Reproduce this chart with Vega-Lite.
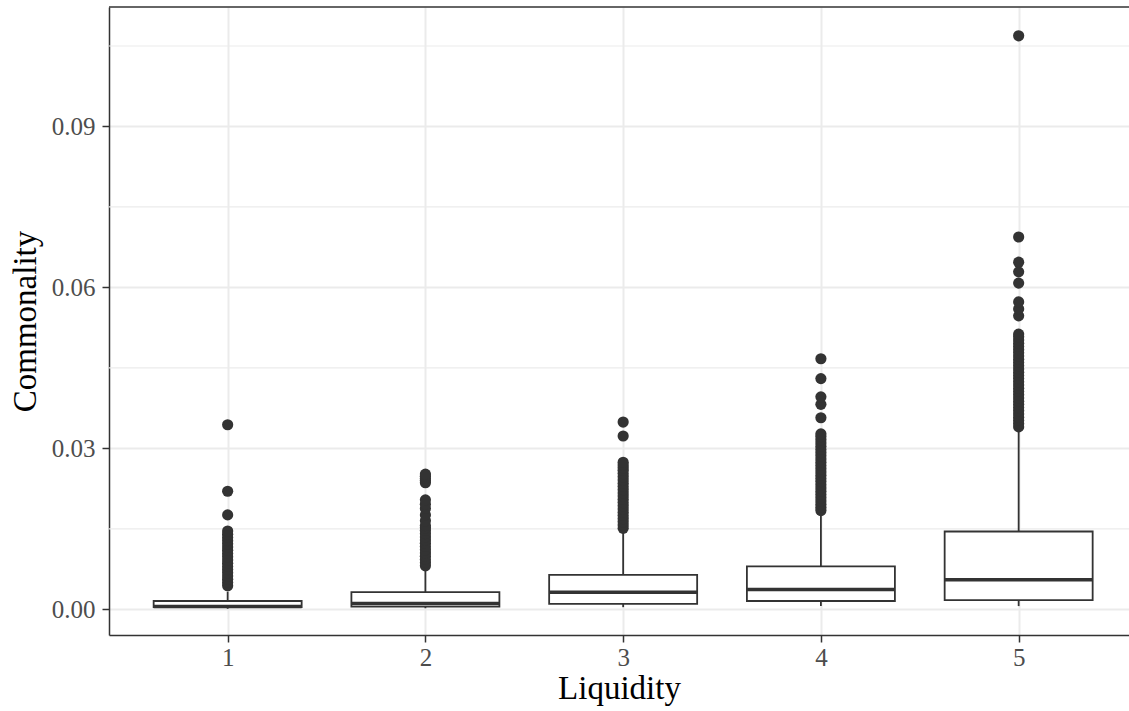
{
  "$schema": "https://vega.github.io/schema/vega-lite/v6.json",
  "description": "Commonality by liquidity group, box plots in ggplot theme_bw style",
  "autosize": {"type": "none"},
  "padding": {"left": 109, "top": 7, "right": 0, "bottom": 76},
  "width": 1020,
  "height": 628,
  "config": {
    "background": "white",
    "view": {"stroke": null},
    "font": "Liberation Serif",
    "axis": {
      "labelFont": "Liberation Serif",
      "titleFont": "Liberation Serif",
      "labelFontSize": 25,
      "labelColor": "#4D4D4D",
      "titleFontSize": 33,
      "titleFontWeight": "normal",
      "titleColor": "black",
      "tickColor": "#333333",
      "tickWidth": 1.5,
      "tickSize": 7,
      "domainColor": "#333333",
      "domainWidth": 1.5,
      "gridColor": "#EBEBEB",
      "gridWidth": 2
    }
  },
  "datasets": {
    "boxes": [
      {"liq": 1, "lower": 0.0001, "q1": 0.0004, "median": 0.0005, "q3": 0.00155, "upper": 0.0033},
      {"liq": 2, "lower": 0.0002, "q1": 0.0005, "median": 0.0011, "q3": 0.0032, "upper": 0.0075},
      {"liq": 3, "lower": 0.0004, "q1": 0.0010, "median": 0.0032, "q3": 0.0064, "upper": 0.0145},
      {"liq": 4, "lower": 0.0006, "q1": 0.00155, "median": 0.0037, "q3": 0.0080, "upper": 0.0178},
      {"liq": 5, "lower": 0.0006, "q1": 0.0017, "median": 0.0055, "q3": 0.0145, "upper": 0.0335}
    ],
    "minor": [
      {"g": 0.015}, {"g": 0.045}, {"g": 0.075}, {"g": 0.105}
    ],
    "outliers": [
      {"liq": 1, "value": 0.0044}, {"liq": 1, "value": 0.0050}, {"liq": 1, "value": 0.0056}, {"liq": 1, "value": 0.0062},
      {"liq": 1, "value": 0.0068}, {"liq": 1, "value": 0.0074}, {"liq": 1, "value": 0.0080}, {"liq": 1, "value": 0.0086},
      {"liq": 1, "value": 0.0092}, {"liq": 1, "value": 0.0098}, {"liq": 1, "value": 0.0104}, {"liq": 1, "value": 0.0110},
      {"liq": 1, "value": 0.0116}, {"liq": 1, "value": 0.0122}, {"liq": 1, "value": 0.0128}, {"liq": 1, "value": 0.0134},
      {"liq": 1, "value": 0.0140}, {"liq": 1, "value": 0.0146}, {"liq": 1, "value": 0.0176}, {"liq": 1, "value": 0.0220},
      {"liq": 1, "value": 0.0344},
      {"liq": 2, "value": 0.0081}, {"liq": 2, "value": 0.0087}, {"liq": 2, "value": 0.0093}, {"liq": 2, "value": 0.0099},
      {"liq": 2, "value": 0.0105}, {"liq": 2, "value": 0.0111}, {"liq": 2, "value": 0.0117}, {"liq": 2, "value": 0.0123},
      {"liq": 2, "value": 0.0129}, {"liq": 2, "value": 0.0135}, {"liq": 2, "value": 0.0141}, {"liq": 2, "value": 0.0147},
      {"liq": 2, "value": 0.0152}, {"liq": 2, "value": 0.0156}, {"liq": 2, "value": 0.0165}, {"liq": 2, "value": 0.0176},
      {"liq": 2, "value": 0.0188}, {"liq": 2, "value": 0.0196}, {"liq": 2, "value": 0.0204}, {"liq": 2, "value": 0.0236},
      {"liq": 2, "value": 0.0240}, {"liq": 2, "value": 0.0244}, {"liq": 2, "value": 0.0248}, {"liq": 2, "value": 0.0252},
      {"liq": 3, "value": 0.0151}, {"liq": 3, "value": 0.0157}, {"liq": 3, "value": 0.0163}, {"liq": 3, "value": 0.0169},
      {"liq": 3, "value": 0.0175}, {"liq": 3, "value": 0.0181}, {"liq": 3, "value": 0.0187}, {"liq": 3, "value": 0.0193},
      {"liq": 3, "value": 0.0199}, {"liq": 3, "value": 0.0205}, {"liq": 3, "value": 0.0211}, {"liq": 3, "value": 0.0217},
      {"liq": 3, "value": 0.0223}, {"liq": 3, "value": 0.0229}, {"liq": 3, "value": 0.0235}, {"liq": 3, "value": 0.0241},
      {"liq": 3, "value": 0.0247}, {"liq": 3, "value": 0.0253}, {"liq": 3, "value": 0.0259}, {"liq": 3, "value": 0.0264},
      {"liq": 3, "value": 0.0269}, {"liq": 3, "value": 0.0274}, {"liq": 3, "value": 0.0323}, {"liq": 3, "value": 0.0349},
      {"liq": 4, "value": 0.0184}, {"liq": 4, "value": 0.0190}, {"liq": 4, "value": 0.0196}, {"liq": 4, "value": 0.0202},
      {"liq": 4, "value": 0.0208}, {"liq": 4, "value": 0.0214}, {"liq": 4, "value": 0.0220}, {"liq": 4, "value": 0.0226},
      {"liq": 4, "value": 0.0232}, {"liq": 4, "value": 0.0238}, {"liq": 4, "value": 0.0244}, {"liq": 4, "value": 0.0250},
      {"liq": 4, "value": 0.0256}, {"liq": 4, "value": 0.0262}, {"liq": 4, "value": 0.0268}, {"liq": 4, "value": 0.0274},
      {"liq": 4, "value": 0.0280}, {"liq": 4, "value": 0.0286}, {"liq": 4, "value": 0.0292}, {"liq": 4, "value": 0.0298},
      {"liq": 4, "value": 0.0304}, {"liq": 4, "value": 0.0310}, {"liq": 4, "value": 0.0316}, {"liq": 4, "value": 0.0322},
      {"liq": 4, "value": 0.0327}, {"liq": 4, "value": 0.0357}, {"liq": 4, "value": 0.0382}, {"liq": 4, "value": 0.0396},
      {"liq": 4, "value": 0.0430}, {"liq": 4, "value": 0.0467},
      {"liq": 5, "value": 0.0340}, {"liq": 5, "value": 0.0346}, {"liq": 5, "value": 0.0352}, {"liq": 5, "value": 0.0358},
      {"liq": 5, "value": 0.0364}, {"liq": 5, "value": 0.0370}, {"liq": 5, "value": 0.0376}, {"liq": 5, "value": 0.0382},
      {"liq": 5, "value": 0.0388}, {"liq": 5, "value": 0.0394}, {"liq": 5, "value": 0.0400}, {"liq": 5, "value": 0.0406},
      {"liq": 5, "value": 0.0412}, {"liq": 5, "value": 0.0418}, {"liq": 5, "value": 0.0424}, {"liq": 5, "value": 0.0430},
      {"liq": 5, "value": 0.0436}, {"liq": 5, "value": 0.0442}, {"liq": 5, "value": 0.0448}, {"liq": 5, "value": 0.0454},
      {"liq": 5, "value": 0.0460}, {"liq": 5, "value": 0.0466}, {"liq": 5, "value": 0.0472}, {"liq": 5, "value": 0.0478},
      {"liq": 5, "value": 0.0484}, {"liq": 5, "value": 0.0490}, {"liq": 5, "value": 0.0496}, {"liq": 5, "value": 0.0502},
      {"liq": 5, "value": 0.0508}, {"liq": 5, "value": 0.0513}, {"liq": 5, "value": 0.0547}, {"liq": 5, "value": 0.0560},
      {"liq": 5, "value": 0.0573}, {"liq": 5, "value": 0.0608}, {"liq": 5, "value": 0.0629}, {"liq": 5, "value": 0.0647},
      {"liq": 5, "value": 0.0694}, {"liq": 5, "value": 0.1069}
    ]
  },
  "layer": [
    {
      "data": {"name": "minor"},
      "mark": {"type": "rule", "color": "#EBEBEB", "strokeWidth": 1.2},
      "encoding": {
        "y": {"field": "g", "type": "quantitative",
              "scale": {"domain": [-0.00479, 0.11227], "nice": false, "zero": false, "padding": 0},
              "axis": {"values": [0, 0.03, 0.06, 0.09], "format": ".2f", "grid": true, "domain": true,
                       "labelPadding": 7, "title": "Commonality", "titleAngle": -90, "titleAlign": "center",
                       "titleBaseline": "middle", "titleX": -84, "titleY": 314}}
      }
    },
    {
      "data": {"name": "boxes"},
      "mark": {"type": "rule", "color": "#333333", "strokeWidth": 1.8},
      "encoding": {
        "x": {"field": "liq", "type": "quantitative",
              "scale": {"domain": [0.4, 5.558], "nice": false, "zero": false, "padding": 0},
              "axis": {"values": [1, 2, 3, 4, 5], "format": "d", "grid": true, "domain": true,
                       "labelBaseline": "alphabetic", "labelPadding": 23, "labelFlush": false,
                       "title": "Liquidity", "titleBaseline": "alphabetic", "titleY": 63}},
        "y": {"field": "lower", "type": "quantitative"},
        "y2": {"field": "upper"}
      }
    },
    {
      "data": {"name": "boxes"},
      "mark": {"type": "bar", "fill": "white", "stroke": "#333333", "strokeWidth": 1.8, "width": 148},
      "encoding": {
        "x": {"field": "liq", "type": "quantitative"},
        "y": {"field": "q1", "type": "quantitative"},
        "y2": {"field": "q3"}
      }
    },
    {
      "data": {"name": "boxes"},
      "mark": {"type": "tick", "orient": "horizontal", "color": "#333333", "size": 148, "thickness": 3.5, "opacity": 1},
      "encoding": {
        "x": {"field": "liq", "type": "quantitative"},
        "y": {"field": "median", "type": "quantitative"}
      }
    },
    {
      "data": {"name": "outliers"},
      "mark": {"type": "point", "filled": true, "color": "#333333", "size": 125, "opacity": 1},
      "encoding": {
        "x": {"field": "liq", "type": "quantitative"},
        "y": {"field": "value", "type": "quantitative"}
      }
    },
    {
      "data": {"values": [{}]},
      "mark": {"type": "rule", "color": "#333333", "strokeWidth": 1.5},
      "encoding": {
        "y": {"datum": 0.11227, "type": "quantitative"}
      }
    }
  ]
}
